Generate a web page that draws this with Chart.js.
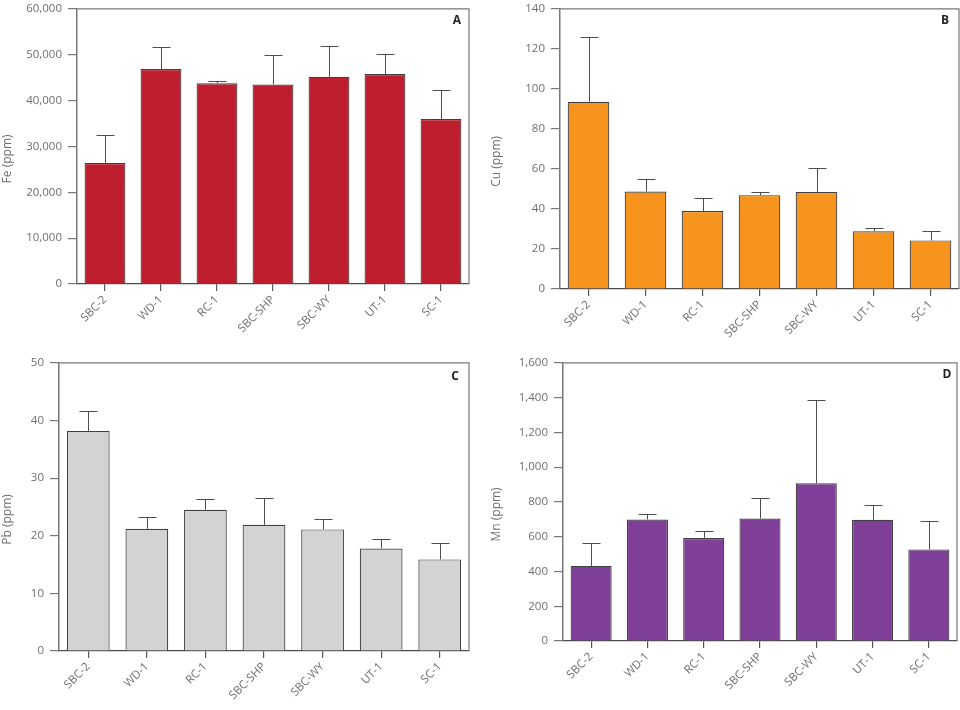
<!DOCTYPE html>
<html>
<head>
<meta charset="utf-8">
<script src="https://cdn.jsdelivr.net/npm/chart.js@4.4.1/dist/chart.umd.min.js"></script>
<style>
  body { margin: 0; background: #fff; }
  canvas { position: absolute; }
</style>
</head>
<body>
<canvas id="chartA" width="480" height="350" style="left:0;top:-4px"></canvas>
<canvas id="chartB" width="480" height="350" style="left:480px;top:-4px"></canvas>
<canvas id="chartC" width="480" height="360" style="left:0;top:350px"></canvas>
<canvas id="chartD" width="480" height="360" style="left:480px;top:350px"></canvas>
<script>
// sample sites
const samples = ['SBC-2', 'WD-1', 'RC-1', 'SBC-SHP', 'SBC-WY', 'UT-1', 'SC-1'];

// means and standard deviations (ppm)
const feMean = [26400, 46900, 43800, 43500, 45200, 45800, 36000];
const feSD   = [6100, 4700, 500, 6500, 6600, 4300, 6400];
const cuMean = [93.6, 48.7, 39.0, 46.9, 48.5, 28.9, 24.3];
const cuSD   = [32.6, 6.1, 6.7, 1.5, 12.2, 1.7, 4.5];
const pbMean = [38.2, 21.2, 24.5, 21.9, 21.1, 17.8, 15.9];
const pbSD   = [3.4, 2.1, 1.8, 4.6, 1.8, 1.7, 2.9];
const mnMean = [432, 699, 593, 705, 907, 697, 527];
const mnSD   = [134, 32, 41, 119, 481, 85, 162];

const axisColor = '#77787b';
const textColor = '#6d6e71';
const fontFamily = '"Open Sans", "Noto Sans", sans-serif';

// draws the upper error bar for every bar
const errorBars = {
    id: 'errorBars',
    afterDatasetsDraw(chart) {
        const ds = chart.data.datasets[0];
        const x = chart.scales.x, y = chart.scales.y;
        const ctx = chart.ctx;
        ctx.save();
        ctx.strokeStyle = '#4d4d4f';
        ctx.lineWidth = 1;
        ds.data.forEach((v, i) => {
            const px = Math.round(x.getPixelForValue(i)) + 0.5;
            const yTop = Math.round(y.getPixelForValue(v + ds.sd[i])) + 0.5;
            const yBar = y.getPixelForValue(v);
            ctx.beginPath();
            ctx.moveTo(px, yBar);
            ctx.lineTo(px, yTop);
            ctx.moveTo(px - 9, yTop);
            ctx.lineTo(px + 9, yTop);
            ctx.stroke();
        });
        ctx.restore();
    }
};

// top and right frame lines + panel letter
const frame = {
    id: 'frame',
    afterDraw(chart) {
        const a = chart.chartArea;
        const ctx = chart.ctx;
        ctx.save();
        ctx.strokeStyle = axisColor;
        ctx.lineWidth = 1.2;
        ctx.beginPath();
        ctx.moveTo(a.left, a.top);
        ctx.lineTo(a.right, a.top);
        ctx.lineTo(a.right, a.bottom);
        ctx.stroke();
        ctx.fillStyle = '#231f20';
        ctx.font = 'bold 12px ' + fontFamily;
        ctx.textAlign = 'center';
        ctx.textBaseline = 'middle';
        const p = chart.options.plugins.frame;
        ctx.fillText(p.letter, a.right - p.dx, a.top + p.dy);
        ctx.restore();
    }
};

function makeChart(id, opt) {
    const ctx = document.getElementById(id).getContext('2d');
    return new Chart(ctx, {
        type: 'bar',
        data: {
            labels: samples,
            datasets: [{
                data: opt.mean,
                sd: opt.sd,
                backgroundColor: opt.color,
                borderColor: '#414042',
                borderWidth: 1.2,
                barPercentage: 0.73,
                categoryPercentage: 1.0
            }]
        },
        options: {
            responsive: false,
            animation: false,
            layout: { padding: { top: opt.top, right: opt.right, left: 0, bottom: 0 } },
            plugins: {
                legend: { display: false },
                tooltip: { enabled: false },
                frame: { letter: opt.letter, dx: opt.dx, dy: opt.dy }
            },
            scales: {
                x: {
                    offset: true,
                    grid: { drawOnChartArea: false, offset: false, tickLength: 7, color: '#58595b', lineWidth: 1.2 },
                    border: { color: '#4d4d4f', width: 1.3 },
                    ticks: {
                        autoSkip: false, maxRotation: 45, minRotation: 45,
                        color: textColor, padding: 2,
                        font: { family: fontFamily, size: 11.5 }
                    },
                    afterFit: s => { s.height = opt.xH; }
                },
                y: {
                    min: 0,
                    max: opt.max,
                    grid: { drawOnChartArea: false, tickLength: 9, color: axisColor, lineWidth: 1.2 },
                    border: { color: axisColor, width: 1.5 },
                    ticks: {
                        stepSize: opt.step, color: textColor, padding: 6,
                        font: { family: fontFamily, size: 11.5 }
                    },
                    title: {
                        // trailing spaces nudge the rotated title down like the original
                        display: true, text: opt.title + '        ', color: textColor,
                        padding: { top: opt.titlePad, bottom: 0 },
                        font: { family: fontFamily, size: 12 }
                    },
                    afterFit: s => { s.width = opt.yW; }
                }
            }
        },
        plugins: [errorBars, frame]
    });
}

makeChart('chartA', { mean: feMean, sd: feSD, color: '#be1e2d', max: 60000, step: 10000,
    title: 'Fe (ppm)', letter: 'A', top: 8, right: 11, yW: 77, xH: 62, titlePad: 0, dx: 12, dy: 12 });
makeChart('chartB', { mean: cuMean, sd: cuSD, color: '#f7941e', max: 140, step: 20,
    title: 'Cu (ppm)', letter: 'B', top: 9, right: 1, yW: 80, xH: 57, titlePad: 9, dx: 14, dy: 12 });
makeChart('chartC', { mean: pbMean, sd: pbSD, color: '#d1d3d4', max: 50, step: 10,
    title: 'Pb (ppm)', letter: 'C', top: 9, right: 11, yW: 59, xH: 59, titlePad: 0, dx: 14, dy: 14 });
makeChart('chartD', { mean: mnMean, sd: mnSD, color: '#7f3f98', max: 1600, step: 200,
    title: 'Mn (ppm)', letter: 'D', top: 10, right: 3, yW: 83, xH: 69, titlePad: 9, dx: 10, dy: 12 });
</script>
</body>
</html>
